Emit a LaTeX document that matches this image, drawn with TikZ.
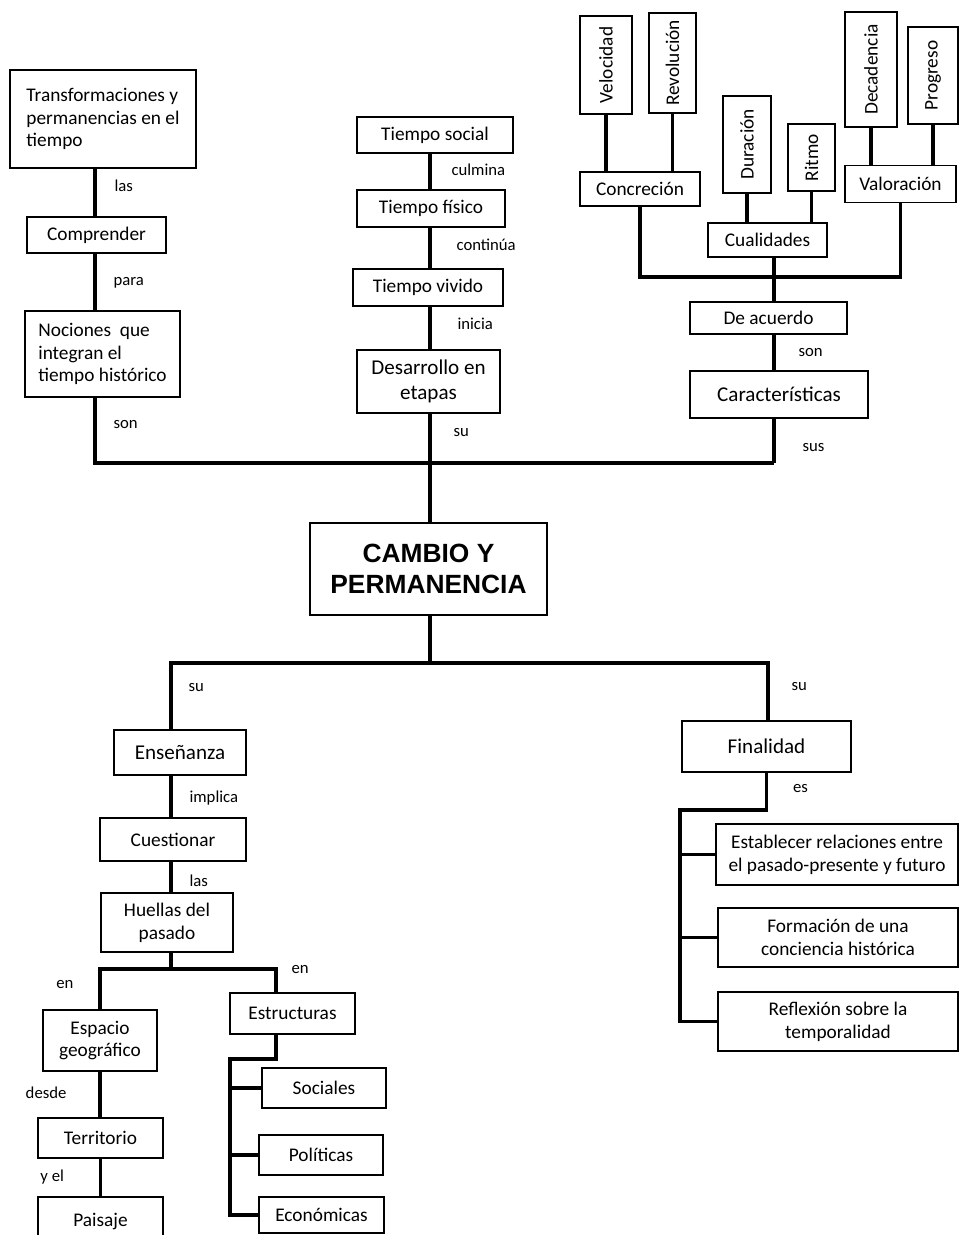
\documentclass[tikz,border=0pt]{standalone}
\usepackage{fontspec}
\setmainfont{Carlito}
\newfontfamily\titlefont{Liberation Sans}
\begin{document}
\begin{tikzpicture}[x=0.02cm,y=-0.02cm,
    box/.style={draw,line width=0.8pt,inner sep=2pt,font=\fontsize{11}{13}\selectfont},
    big/.style={font=\fontsize{12}{14}\selectfont},
    conn/.style={line width=1.8pt},
    lab/.style={inner sep=0pt,font=\fontsize{9.5}{11}\selectfont}]
      \useasboundingbox (0,0) rectangle (960,1235);

      \node[box,align=left,minimum width=3.72cm,minimum height=1.96cm] (trans) at (103,119) {Transformaciones y\\permanencias en el\\tiempo};
      \node[box,minimum width=2.78cm,minimum height=0.72cm] (comp) at (96.5,235) {Comprender};
      \node[box,align=left,minimum width=3.1cm,minimum height=1.72cm] (noc) at (102.5,354) {Nociones\ \ que\\integran el\\tiempo histórico};

      \node[box,minimum width=3.12cm,minimum height=0.72cm] (tsoc) at (435,135) {Tiempo social};
      \node[box,minimum width=2.96cm,minimum height=0.74cm] (tfis) at (431,208.5) {Tiempo físico};
      \node[box,minimum width=3cm,minimum height=0.74cm] (tviv) at (428,287.5) {Tiempo vivido};
      \node[box,big,align=center,minimum width=2.86cm,minimum height=1.26cm] (desa) at (428.5,381.5) {Desarrollo en\\etapas};

      \node[box,minimum width=1.04cm,minimum height=1.96cm] (velo) at (606,65) {\rotatebox{90}{Velocidad}};
      \node[box,minimum width=0.94cm,minimum height=2cm] (revo) at (672.5,63) {\rotatebox{90}{Revolución}};
      \node[box,minimum width=0.96cm,minimum height=1.94cm] (dura) at (747,144.5) {\rotatebox{90}{Duración}};
      \node[box,minimum width=0.94cm,minimum height=1.34cm] (ritmo) at (811.5,157.5) {\rotatebox{90}{Ritmo}};
      \node[box,minimum width=1.04cm,minimum height=2.3cm] (deca) at (871,69.5) {\rotatebox{90}{Decadencia}};
      \node[box,minimum width=1cm,minimum height=1.94cm] (prog) at (933,75.5) {\rotatebox{90}{Progreso}};
      \node[box,minimum width=2.4cm,minimum height=0.68cm] (conc) at (640,189) {Concreción};
      \node[box,minimum width=2.38cm,minimum height=0.68cm] (cual) at (767.5,240) {Cualidades};
      \node[box,minimum width=2.22cm,minimum height=0.74cm] (valo) at (900.5,184) {Valoración};
      \node[box,minimum width=3.14cm,minimum height=0.64cm] (deac) at (768.5,318) {De acuerdo};
      \node[box,big,minimum width=3.56cm,minimum height=0.94cm] (cara) at (779,394.5) {Características};

      \node[box,align=center,minimum width=4.74cm,minimum height=1.84cm,
        font=\fontsize{15}{18}\selectfont\titlefont\bfseries] (cam) at (428.5,569) {CAMBIO Y\\PERMANENCIA};

      \node[box,big,minimum width=2.64cm,minimum height=0.9cm] (ens) at (180,752.5) {Enseñanza};
      \node[box,minimum width=2.92cm,minimum height=0.86cm] (cues) at (173,839.5) {Cuestionar};
      \node[box,align=center,minimum width=2.64cm,minimum height=1.18cm] (huel) at (167,922.5) {Huellas del\\pasado};
      \node[box,align=center,minimum width=2.28cm,minimum height=1.22cm] (esp) at (100,1040.5) {Espacio\\geográfico};
      \node[box,minimum width=2.5cm,minimum height=0.8cm] (terr) at (100.5,1138) {Territorio};
      \node[box,minimum width=2.5cm,minimum height=0.96cm] (pais) at (100.5,1221) {Paisaje};
      \node[box,minimum width=2.5cm,minimum height=0.82cm] (estr) at (292.5,1013.5) {Estructuras};
      \node[box,minimum width=2.48cm,minimum height=0.8cm] (soc) at (324,1088) {Sociales};
      \node[box,minimum width=2.48cm,minimum height=0.8cm] (pol) at (321,1155) {Políticas};
      \node[box,minimum width=2.5cm,minimum height=0.72cm] (eco) at (321.5,1215) {Económicas};

      \node[box,big,minimum width=3.38cm,minimum height=1.02cm] (fin) at (766.5,746.5) {Finalidad};
      \node[box,align=center,minimum width=4.84cm,minimum height=1.22cm] (est) at (837,854.5) {Establecer relaciones entre\\el pasado-presente y futuro};
      \node[box,align=center,minimum width=4.8cm,minimum height=1.18cm] (form) at (838,937.5) {Formación de una\\conciencia histórica};
      \node[box,align=center,minimum width=4.8cm,minimum height=1.18cm] (refl) at (838,1021.5) {Reflexión sobre la\\temporalidad};

      \coordinate (lx) at (95,463);
      \coordinate (mx) at (430,463);
      \coordinate (rx) at (774,463);
      \coordinate (cx) at (774,277);
      \coordinate (bl) at (171,663);
      \coordinate (br) at (768,663);
      \coordinate (hj) at (171,969);
      \coordinate (sx) at (276,969);
      \coordinate (sj) at (230,1059);
      \coordinate (fj) at (680,810);

      \draw[conn] (trans.south -| lx) -- node[lab,right=0.36cm,pos=0.35] {las} (comp.north -| lx);
      \draw[conn] (comp.south -| lx) -- node[lab,right=0.34cm,pos=0.52] {para} (noc.north -| lx);
      \draw[conn] (noc.south -| lx) -- node[lab,right=0.34cm,pos=0.41] {son} (lx) -- (rx);

      \draw[conn] (tsoc.south -| mx) -- node[lab,right=0.4cm,pos=0.46] {culmina} (tfis.north -| mx);
      \draw[conn] (tfis.south -| mx) -- node[lab,right=0.5cm,pos=0.43] {continúa} (tviv.north -| mx);
      \draw[conn] (tviv.south -| mx) -- node[lab,right=0.52cm,pos=0.39] {inicia} (desa.north -| mx);
      \draw[conn] (desa.south -| mx) -- node[lab,right=0.44cm,pos=0.38] {su} (mx) -- (cam.north -| mx);

      \draw[conn] (velo.south) -- (velo.south |- conc.north);
      \draw[conn] (revo.south) -- (revo.south |- conc.north);
      \draw[conn] (dura.south) -- (dura.south |- cual.north);
      \draw[conn] (ritmo.south) -- (ritmo.south |- cual.north);
      \draw[conn] (deca.south) -- (deca.south |- valo.north);
      \draw[conn] (prog.south) -- (prog.south |- valo.north);
      \draw[conn] (conc.south) |- (cx) -| (valo.south);
      \draw[conn] (cual.south -| cx) -- (deac.north -| cx);
      \draw[conn] (deac.south -| cx) -- node[lab,right=0.46cm,pos=0.51] {son} (cara.north -| cx);
      \draw[conn] (cara.south -| rx) -- node[lab,right=0.54cm,pos=0.64] {sus} (rx);

      \draw[conn] (cam.south -| mx) -- (mx |- bl);
      \draw[conn] (ens.north -| bl) -- node[lab,right=0.32cm,pos=0.63] {su} (bl) -- (br) -- node[lab,right=0.44cm,pos=0.41] {su} (fin.north -| br);
      \draw[conn] (ens.south -| bl) -- node[lab,right=0.34cm,pos=0.53] {implica} (cues.north -| bl);
      \draw[conn] (cues.south -| bl) -- node[lab,right=0.34cm,pos=0.62] {las} (huel.north -| bl);
      \draw[conn] (huel.south -| hj) -- (hj);
      \draw[conn] (esp.north) -- node[lab,left=0.5cm,pos=0.61] {en} (esp.north |- hj) -- (sx) -- node[lab,right=0.28cm,pos=0] {en} (estr.north -| sx);
      \draw[conn] (esp.south) -- node[lab,left=0.64cm,pos=0.47] {desde} (esp.south |- terr.north);
      \draw[conn] (terr.south) -- node[lab,left=0.7cm,pos=0.49] {y el} (terr.south |- pais.north);
      \draw[conn] (estr.south -| sx) |- (sj) |- (eco.west);
      \draw[conn] (sj |- soc.west) -- (soc.west);
      \draw[conn] (sj |- pol.west) -- (pol.west);

      \draw[conn] (fin.south) -- node[lab,right=0.5cm,pos=0.42] {es} (fin.south |- fj) -- (fj) |- (refl.west);
      \draw[conn] (fj |- est.west) -- (est.west);
      \draw[conn] (fj |- form.west) -- (form.west);

      \end{tikzpicture}
\end{document}
